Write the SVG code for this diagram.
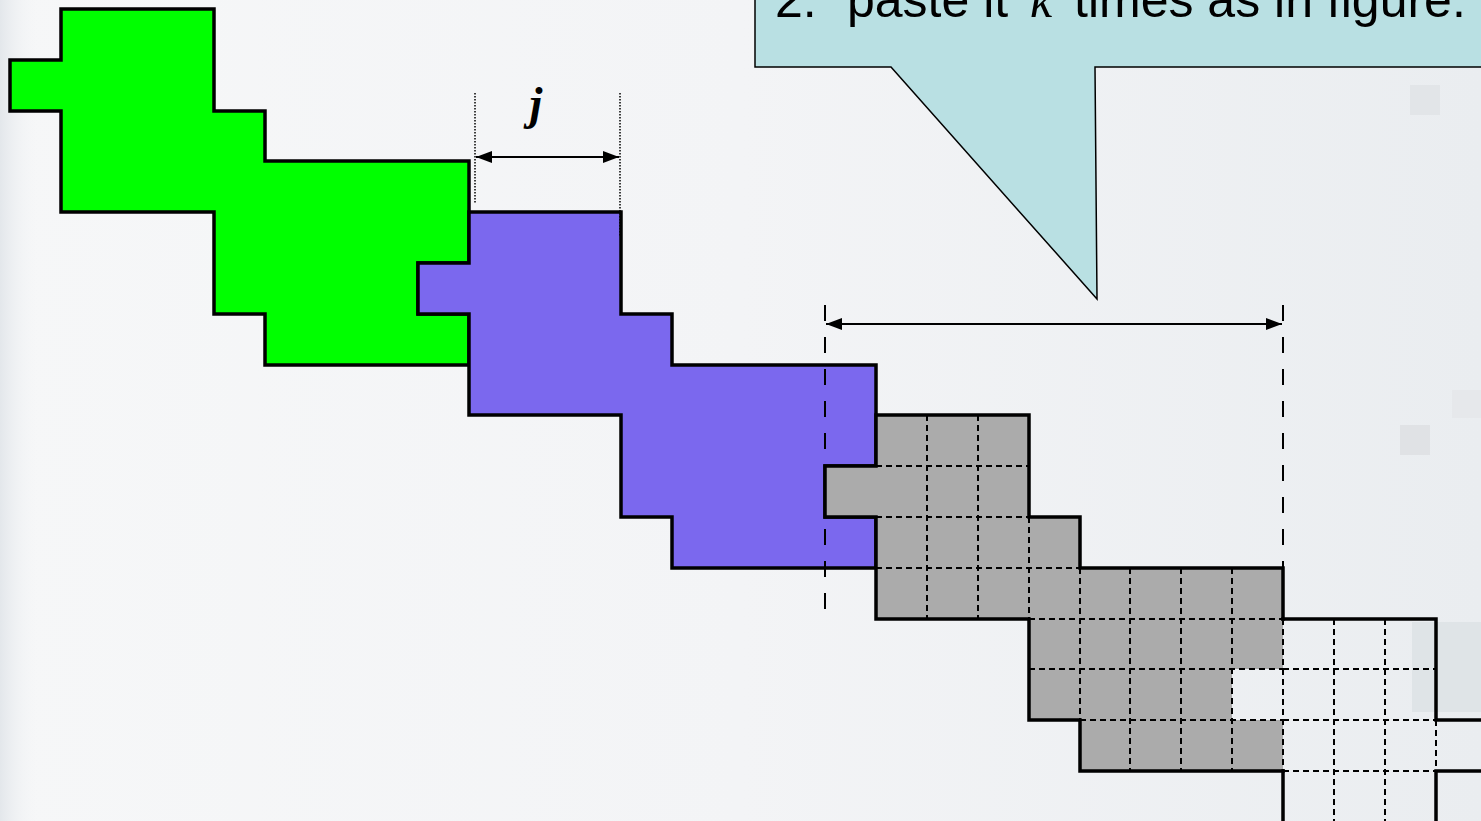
<svg xmlns="http://www.w3.org/2000/svg" width="1481" height="821" viewBox="0 0 1481 821">
  <style>
    .solid { fill: none; stroke: #000; stroke-width: 3.5; stroke-linejoin: miter; stroke-linecap: square; }
    .shape { stroke: #000; stroke-width: 3.5; stroke-linejoin: miter; }
    .green { fill: #00ff00; }
    .purple { fill: #7b68ee; }
    .gray { fill: #ababab; }
    .grid { fill: none; stroke: #000; stroke-width: 2; stroke-dasharray: 6 4; }
    .longdash { fill: none; stroke: #000; stroke-width: 2; stroke-dasharray: 16 16; }
    .dotted { fill: none; stroke: #000; stroke-width: 1.5; stroke-dasharray: 1.5 1.5; }
    .dim { fill: none; stroke: #000; stroke-width: 2; }
    .label { font-family: "Liberation Sans", Arial, sans-serif; font-size: 50px; fill: #000; }
    .math { font-family: "Liberation Serif", "Times New Roman", serif; font-style: italic; }
  </style>
  <defs>
    <linearGradient id="bgGrad" x1="0" y1="0" x2="1" y2="0">
      <stop offset="0" stop-color="#f6f7f8"/>
      <stop offset="0.5" stop-color="#f3f4f6"/>
      <stop offset="1" stop-color="#eaedf0"/>
    </linearGradient>
    <linearGradient id="leftEdge" x1="0" y1="0" x2="1" y2="0">
      <stop offset="0" stop-color="#e3e7eb"/>
      <stop offset="1" stop-color="#f6f7f8" stop-opacity="0"/>
    </linearGradient>
    <marker id="arrS" viewBox="0 0 16 12" refX="0" refY="6" markerWidth="16" markerHeight="12" markerUnits="userSpaceOnUse" orient="auto">
      <path d="M16,0 L0,6 L16,12 Z" fill="#000"/>
    </marker>
    <marker id="arrE" viewBox="0 0 16 12" refX="16" refY="6" markerWidth="16" markerHeight="12" markerUnits="userSpaceOnUse" orient="auto">
      <path d="M0,0 L16,6 L0,12 Z" fill="#000"/>
    </marker>
  </defs>

  <g id="background">
    <rect x="0" y="0" width="1481" height="821" fill="url(#bgGrad)"/>
    <rect x="0" y="0" width="40" height="821" fill="url(#leftEdge)"/>
    <rect x="1410" y="85" width="30" height="30" fill="#dcdfe2" opacity="0.6"/>
    <rect x="1400" y="425" width="30" height="30" fill="#d8dbde" opacity="0.6"/>
    <rect x="1452" y="390" width="29" height="28" fill="#e2e5e8" opacity="0.6"/>
    <rect x="1412" y="622" width="69" height="90" fill="#d7dee1" opacity="0.6"/>
  </g>

  <g id="node-green">
    <polygon class="shape green" points="61,9 214,9 214,111 265,111 265,161 469,161 469,263 418,263 418,314 469,314 469,365 265,365 265,314 214,314 214,212 61,212 61,111 10,111 10,60 61,60"/>
  </g>

  <g id="node-purple">
    <polygon class="shape purple" points="469,212 621,212 621,314 672,314 672,365 876,365 876,466 825,466 825,517 876,517 876,568 672,568 672,517 621,517 621,415 469,415 469,314 418,314 418,263 469,263"/>
  </g>

  <g id="node-gray">
    <polygon class="gray" points="876,415 1029,415 1029,517 1080,517 1080,568 1283,568 1283,669 1232,669 1232,720 1283,720 1283,771 1080,771 1080,720 1029,720 1029,619 876,619 876,517 825,517 825,466 876,466"/>
    <path class="grid" d="M876,466 H1029 M876,517 H1029 M876,568 H1080 M1029,619 H1283 M1029,669 H1283 M1080,720 H1283 M927,415 V619 M978,415 V619 M1029,517 V619 M1080,568 V720 M1130,568 V771 M1181,568 V771 M1232,568 V771 M1283,619 V771"/>
    <path class="solid" d="M1283,619 V568 H1080 V517 H1029 V415 H876 V466 H825 V517 H876 V619 H1029 V720 H1080 V771 H1283"/>
  </g>

  <g id="node-white">
    <path class="grid" d="M1283,669 H1436 M1283,720 H1436 M1283,771 H1436 M1334,619 V822 M1385,619 V822 M1436,720 V771"/>
    <path class="solid" d="M1283,771 V822 M1283,619 H1436 V720 H1485 M1485,771 H1436 V825"/>
  </g>

  <g id="node-callout">
    <path d="M755,-10 V67 H891 L1097,299 L1095,67 H1490 V-10 Z" fill="#b9e0e3" stroke="#000" stroke-width="1.5"/>
    <text class="label" y="17"><tspan x="775">2.</tspan><tspan x="847">paste it</tspan><tspan x="1030" class="math">k</tspan><tspan x="1074">times as in figure.</tspan></text>
  </g>

  <g id="connectors">
    <line class="dotted" x1="475" y1="93" x2="475" y2="203"/>
    <line class="dotted" x1="620" y1="93" x2="620" y2="236"/>
    <line class="dim" x1="476" y1="157" x2="619" y2="157" marker-start="url(#arrS)" marker-end="url(#arrE)"/>
    <line class="longdash" x1="825" y1="305" x2="825" y2="614"/>
    <line class="longdash" x1="1283" y1="305" x2="1283" y2="568"/>
    <line class="dim" x1="826" y1="324" x2="1282" y2="324" marker-start="url(#arrS)" marker-end="url(#arrE)"/>
    <text x="536" y="119" font-family="'Liberation Serif', 'Times New Roman', serif" font-size="46" font-style="italic" font-weight="bold" text-anchor="middle" fill="#000">j</text>
  </g>
</svg>
